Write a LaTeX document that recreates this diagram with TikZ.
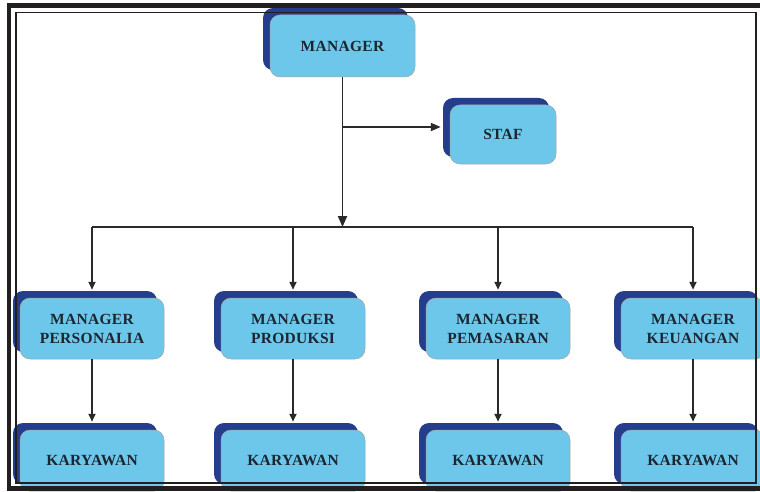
\documentclass[tikz,border=0pt]{standalone}
\usepackage{fontspec}
\setmainfont{Liberation Serif}
\usetikzlibrary{arrows.meta,shadows}
\definecolor{Sky}{HTML}{6CC7EB}
\definecolor{Navy}{HTML}{243E8C}
\definecolor{Ink}{HTML}{1C2630}
\definecolor{Wire}{HTML}{2A2A2A}
\definecolor{Frame}{HTML}{231F20}

\begin{document}
\begin{tikzpicture}[x=1pt,y=1pt,every node/.style={text=Ink},
  unit/.style={draw=black!35,line width=0.5pt,fill=Sky,rounded corners=10pt,
    minimum width=144pt,minimum height=61pt,align=center,
    font=\bfseries\fontsize{15.5}{19}\selectfont\addfontfeatures{LetterSpace=2},
    copy shadow={shadow xshift=-7pt,shadow yshift=7pt,fill=Navy,draw=none}},
  link/.style={Wire,line width=1.9pt,-{Triangle[length=8pt,width=7pt]}}]
  \useasboundingbox (0,0) rectangle (760,491);
  \fill[white] (0,0) rectangle (760,491);

  % top of the chart
  \node[unit,minimum width=145pt,minimum height=62pt] (mgr) at (342.5,445) {MANAGER};
  \node[unit,minimum width=106pt,minimum height=59pt] (staf) at (503,356.5) {STAF};

  \coordinate (busL) at (92,264);
  \coordinate (busR) at (693,264);
  \coordinate (busM) at (mgr |- busL);
  \coordinate (tap) at (342.5,364);

  \draw[link,-{Triangle[length=11pt,width=9pt]}] (mgr) -- (busM);
  \draw[link,-{Triangle[length=10pt,width=8pt]},shorten >=9pt] (tap) -- (tap -| staf.west);
  \draw[Wire,line width=2.4pt] (busL) -- (busR);

  % departments and their staff
  \foreach \id/\x/\dept in {pers/92/PERSONALIA,prod/293/PRODUKSI,
      pem/498/PEMASARAN,keu/693/KEUANGAN}{
    \node[unit] (m\id) at (\x,162.5) {MANAGER\\\dept};
    \node[unit] (k\id) at (\x,30.5) {KARYAWAN};
    \draw[link,shorten >=8pt] (busL -| m\id) -- (m\id.north);
    \draw[link,shorten >=8pt] (m\id) -- (k\id);
  }

  % double frame
  \draw[Frame,line width=4.5pt] (9,2.5) rectangle (764,485.7);
  \draw[Frame,line width=1.8pt] (16,8) rectangle (756,478.5);
\end{tikzpicture}
\end{document}
